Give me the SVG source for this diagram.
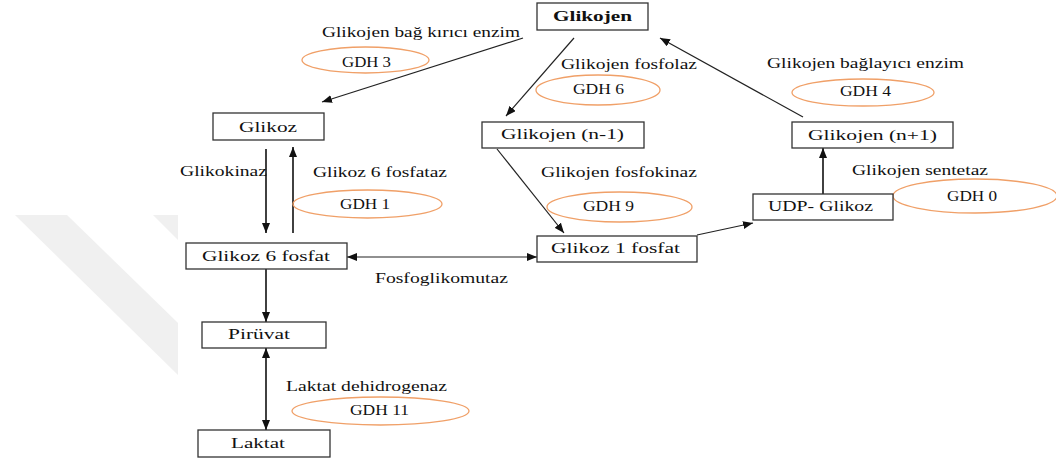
<svg xmlns="http://www.w3.org/2000/svg" width="1056" height="461" viewBox="0 0 1056 461">
<defs>
<marker id="ah" viewBox="0 0 10 8" refX="10" refY="4" markerWidth="10" markerHeight="8" markerUnits="userSpaceOnUse" orient="auto-start-reverse">
<path d="M0,0 L10,4 L0,8 z" fill="#111"/>
</marker>
<style>
.box{fill:#fff;stroke:#333;stroke-width:1.3}
.ell{fill:none;stroke:#f0a068;stroke-width:1.3}
.t{font-family:"Liberation Serif","DejaVu Serif","Times New Roman",serif;font-size:15px;fill:#111}
.g{font-family:"Liberation Serif","DejaVu Serif","Times New Roman",serif;font-size:14px;fill:#111}
.b{font-weight:bold}
.c{fill:none;stroke:#222;stroke-width:1.2}
.v{fill:none;stroke:#111;stroke-width:1.6}
</style>
</defs>
<rect width="1056" height="461" fill="#fff"/>
<g id="watermark" fill="#f0f0f0">
<polygon points="15,215 67,215 178,323 178,375"/>
<polygon points="153,215 178,215 178,240"/>
</g>
<g id="connectors">
<line class="c" x1="523" y1="38" x2="322" y2="102" marker-end="url(#ah)"/>
<line class="c" x1="574" y1="38" x2="506" y2="116" marker-end="url(#ah)"/>
<line class="c" x1="803" y1="117" x2="660" y2="38" marker-end="url(#ah)"/>
<line class="v" x1="266" y1="149" x2="266" y2="233" marker-end="url(#ah)"/>
<line class="v" x1="293" y1="233" x2="293" y2="147" marker-end="url(#ah)"/>
<line class="c" x1="347" y1="257" x2="537" y2="257" marker-start="url(#ah)" marker-end="url(#ah)"/>
<line class="v" x1="266" y1="269" x2="266" y2="322" marker-end="url(#ah)"/>
<line class="v" x1="266" y1="348" x2="266" y2="430" marker-start="url(#ah)" marker-end="url(#ah)"/>
<line class="c" x1="497" y1="149" x2="564" y2="233" marker-end="url(#ah)"/>
<line class="c" x1="697" y1="235" x2="753" y2="223" marker-end="url(#ah)"/>
<line class="v" x1="823" y1="194" x2="823" y2="148" marker-end="url(#ah)"/>
</g>
<g id="labels">
<text class="t" x="322" y="37" textLength="198" lengthAdjust="spacingAndGlyphs">Glikojen bağ kırıcı enzim</text>
<text class="t" x="561" y="69" textLength="136" lengthAdjust="spacingAndGlyphs">Glikojen fosfolaz</text>
<text class="t" x="767" y="68" textLength="197" lengthAdjust="spacingAndGlyphs">Glikojen bağlayıcı enzim</text>
<text class="t" x="180" y="176" textLength="87" lengthAdjust="spacingAndGlyphs">Glikokinaz</text>
<text class="t" x="313" y="177" textLength="134" lengthAdjust="spacingAndGlyphs">Glikoz 6 fosfataz</text>
<text class="t" x="541" y="177" textLength="156" lengthAdjust="spacingAndGlyphs">Glikojen fosfokinaz</text>
<text class="t" x="852" y="175" textLength="136" lengthAdjust="spacingAndGlyphs">Glikojen sentetaz</text>
<text class="t" x="375" y="283" textLength="133" lengthAdjust="spacingAndGlyphs">Fosfoglikomutaz</text>
<text class="t" x="286" y="391" textLength="161" lengthAdjust="spacingAndGlyphs">Laktat dehidrogenaz</text>
</g>
<g id="gdh3"><ellipse class="ell" cx="365.5" cy="60" rx="63.5" ry="13"/><text class="g" x="342" y="67" textLength="49" lengthAdjust="spacingAndGlyphs">GDH 3</text></g>
<g id="gdh6"><ellipse class="ell" cx="598" cy="90" rx="62" ry="15"/><text class="g" x="573" y="94" textLength="51" lengthAdjust="spacingAndGlyphs">GDH 6</text></g>
<g id="gdh4"><ellipse class="ell" cx="863" cy="92.5" rx="71" ry="13.5"/><text class="g" x="840" y="96" textLength="51" lengthAdjust="spacingAndGlyphs">GDH 4</text></g>
<g id="gdh1"><ellipse class="ell" cx="367.5" cy="204" rx="74.5" ry="14"/><text class="g" x="340" y="209" textLength="50" lengthAdjust="spacingAndGlyphs">GDH 1</text></g>
<g id="gdh9"><ellipse class="ell" cx="619.5" cy="207" rx="72.5" ry="15"/><text class="g" x="583" y="211" textLength="51" lengthAdjust="spacingAndGlyphs">GDH 9</text></g>
<g id="gdh0"><ellipse class="ell" cx="975" cy="196" rx="82" ry="17"/><text class="g" x="947" y="201" textLength="50" lengthAdjust="spacingAndGlyphs">GDH 0</text></g>
<g id="gdh11"><ellipse class="ell" cx="380.5" cy="411" rx="88.5" ry="14"/><text class="g" x="350" y="415" textLength="59" lengthAdjust="spacingAndGlyphs">GDH 11</text></g>
<g id="glikojen"><rect class="box" x="537" y="3" width="111" height="27"/><text class="t b" x="553" y="21" textLength="79" lengthAdjust="spacingAndGlyphs">Glikojen</text></g>
<g id="glikoz"><rect class="box" x="213" y="113" width="111" height="27"/><text class="t" x="239" y="132" textLength="58" lengthAdjust="spacingAndGlyphs">Glikoz</text></g>
<g id="glikojen-n-1"><rect class="box" x="482" y="122" width="162" height="26"/><text class="t" x="501" y="139" textLength="123" lengthAdjust="spacingAndGlyphs">Glikojen (n-1)</text></g>
<g id="glikojen-n+1"><rect class="box" x="792" y="122" width="161" height="26"/><text class="t" x="808" y="140" textLength="129" lengthAdjust="spacingAndGlyphs">Glikojen (n+1)</text></g>
<g id="udp-glikoz"><rect class="box" x="753" y="194" width="140" height="26"/><text class="t" x="768" y="211" textLength="105" lengthAdjust="spacingAndGlyphs">UDP- Glikoz</text></g>
<g id="glikoz-6-fosfat"><rect class="box" x="186" y="243" width="161" height="26"/><text class="t" x="202" y="261" textLength="128" lengthAdjust="spacingAndGlyphs">Glikoz 6 fosfat</text></g>
<g id="glikoz-1-fosfat"><rect class="box" x="537" y="236" width="160" height="26"/><text class="t" x="551" y="253" textLength="129" lengthAdjust="spacingAndGlyphs">Glikoz 1 fosfat</text></g>
<g id="piruvat"><rect class="box" x="202" y="322" width="124" height="26"/><text class="t" x="228" y="339" textLength="62" lengthAdjust="spacingAndGlyphs">Pirüvat</text></g>
<g id="laktat"><rect class="box" x="198" y="430" width="132" height="27"/><text class="t" x="231" y="448" textLength="54" lengthAdjust="spacingAndGlyphs">Laktat</text></g>
</svg>
